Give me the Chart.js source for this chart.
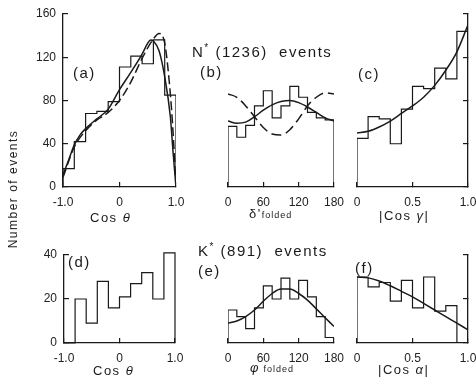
<!DOCTYPE html>
<html>
<head>
<meta charset="utf-8">
<script src="https://cdn.jsdelivr.net/npm/chart.js@4.4.0/dist/chart.umd.min.js"></script>
<style>
  body { margin: 0; background: #fff; }
  #wrap { position: relative; width: 476px; height: 386px; overflow: hidden; }
  #wrap canvas { position: absolute; left: 0; top: 0; }
  .t { position: absolute; font-family: 'Liberation Sans', sans-serif; color: #1a1a1a; white-space: pre; line-height: 1; }
  .big { font-size: 15px; letter-spacing: 1.5px; }
  .ax { font-size: 13px; letter-spacing: 1.5px; }
  .sub { font-size: 9px; letter-spacing: 1px; }
</style>
</head>
<body>
<div id="wrap">
  <canvas id="pa" width="476" height="386"></canvas>
  <canvas id="pb" width="476" height="386"></canvas>
  <canvas id="pc" width="476" height="386"></canvas>
  <canvas id="pd" width="476" height="386"></canvas>
  <canvas id="pe" width="476" height="386"></canvas>
  <canvas id="pf" width="476" height="386"></canvas>

  <div class="t big" style="left:192px;top:43px;">N<sup style="font-size:10px;">*</sup> (1236)  events</div>
  <div class="t big" style="left:198px;top:242px;">K<sup style="font-size:10px;">*</sup> (891)  events</div>

  <div class="t big" style="left:73px;top:65px;">(a)</div>
  <div class="t big" style="left:200px;top:64px;">(b)</div>
  <div class="t big" style="left:358px;top:66px;">(c)</div>
  <div class="t big" style="left:68px;top:254px;">(d)</div>
  <div class="t big" style="left:198px;top:263px;">(e)</div>
  <div class="t big" style="left:355px;top:260px;">(f)</div>

  <div class="t ax" style="left:90px;top:211px;">Cos <i>θ</i></div>
  <div class="t ax" style="left:249px;top:207px;">δ'<span class="sub">folded</span></div>
  <div class="t ax" style="left:379px;top:209px;">|Cos <i>γ</i>|</div>
  <div class="t ax" style="left:93px;top:364px;">Cos <i>θ</i></div>
  <div class="t ax" style="left:250px;top:361px;"><i>φ</i><span class="sub"> folded</span></div>
  <div class="t ax" style="left:378px;top:363px;">|Cos <i>α</i>|</div>

  <div class="t" style="left:-56px;top:182px;width:140px;height:14px;text-align:center;font-size:12px;letter-spacing:1.5px;transform:rotate(-90deg);">Number of events</div>
</div>

<script>
// ---- N* (1236) events, top row ----
const cosEdges = [-1.0, -0.8, -0.6, -0.4, -0.2, 0, 0.2, 0.4, 0.6, 0.8, 1.0];
const nCosTheta = [17, 42, 68, 70, 79, 111, 121, 114, 136, 85];
const fitAsolidX = [-1.0, -0.9, -0.8, -0.7, -0.6, -0.4, -0.2, 0, 0.2, 0.4, 0.5, 0.55, 0.6, 0.7, 0.8, 0.9, 0.95, 1.0];
const fitAsolid = [11, 25, 39, 48, 54, 63, 72, 90, 106, 123, 133, 136, 135, 126, 102, 65, 31, 0];
const fitAdashX = [-1.0, -0.8, -0.6, -0.4, -0.2, 0, 0.2, 0.4, 0.6, 0.7, 0.8, 0.9, 0.95, 1.0];
const fitAdash = [9, 37, 52, 62, 69, 80, 97, 119, 137, 142, 133, 86, 49, 0];

const angEdges = [0, 15, 30, 45, 60, 75, 90, 105, 120, 135, 150, 165, 180];
const nDelta = [56, 46, 57, 75, 89, 64, 75, 93, 83, 69, 64, 62];
const fitBsolid = [61, 59, 60, 65, 71, 76, 79, 80, 78, 74, 69, 64, 61];
const fitBdash = [86, 83, 75, 65, 55, 49, 48, 53, 63, 75, 83, 87, 86];

const absEdges = [0, 0.1, 0.2, 0.3, 0.4, 0.5, 0.6, 0.7, 0.8, 0.9, 1.0];
const nCosGamma = [45, 65, 63, 40, 72, 93, 91, 110, 100, 144];
const fitC = [50, 51.5, 55.5, 61, 68, 75, 83, 94, 108, 125, 150];

// ---- K* (891) events, bottom row ----
const nCosThetaK = [0, 20, 9, 28, 16, 21, 27, 32, 20, 41];
const nPhi = [15, 12, 6.5, 16, 26, 20, 29.5, 20, 28.5, 21, 12, 2.5];
const fitE = [9, 10, 12, 15, 19, 22.5, 24.5, 24.5, 22.5, 19.5, 15.5, 11.5, 7.5];
const nCosAlpha = [30, 25.5, 27.5, 19, 28.5, 16, 30, 14.5, 17, 0];
const fitF = [30, 29.6, 28.2, 26, 23.5, 21, 18, 15, 12, 9, 6];

const ink = '#1a1a1a';
const W = 476, H = 386;
const X_AXIS_H = 22, Y_AXIS_W = 30;

// histogram outline as a stepped line, closed down to zero at both ends
function steps(edges, counts) {
  const pts = [{ x: edges[0], y: 0 }];
  counts.forEach((c, i) => pts.push({ x: edges[i], y: c }));
  pts.push({ x: edges[edges.length - 1], y: counts[counts.length - 1] });
  pts.push({ x: edges[edges.length - 1], y: 0 });
  return pts;
}

function pairs(xs, ys) {
  return xs.map((x, i) => ({ x: x, y: ys[i] }));
}

function histSet(pts) {
  return { data: pts, stepped: true, borderColor: ink, borderWidth: 1.2, pointRadius: 0, fill: false };
}

function curveSet(pts, dash) {
  return {
    data: pts, borderColor: ink, borderWidth: 1.5, pointRadius: 0, fill: false,
    cubicInterpolationMode: 'monotone', borderDash: dash || []
  };
}

const fmt = v => (v === 0 ? '0' : (Math.abs(v) < 10 && v % 1 === 0 ? v.toFixed(1) : String(v)));

function axisGrid() {
  return { display: true, drawOnChartArea: false, drawTicks: true, tickLength: -5, color: ink, lineWidth: 1.2 };
}

function makePanel(id, area, xs, ys, datasets) {
  const yShown = ys.display !== false;
  const yRight = ys.position === 'right';
  const padding = {
    top: area.top,
    bottom: H - area.bottom - X_AXIS_H,
    left: area.left - (yShown && !yRight ? Y_AXIS_W : 0),
    right: W - area.right - (yShown && yRight ? Y_AXIS_W : 0)
  };
  new Chart(document.getElementById(id), {
    type: 'line',
    data: { datasets: datasets },
    options: {
      responsive: false,
      animation: false,
      layout: { padding: padding },
      plugins: { legend: { display: false }, tooltip: { enabled: false } },
      scales: {
        x: {
          type: 'linear', position: 'bottom', min: xs.min, max: xs.max,
          grid: axisGrid(),
          border: { display: true, color: ink, width: 1.3 },
          ticks: {
            stepSize: xs.step, padding: 13, color: '#222',
            font: { family: "'Liberation Sans', sans-serif", size: 12 },
            maxRotation: 0, autoSkip: false, callback: v => (xs.tens ? fmt(v) : String(v))
          },
          afterFit: s => { s.height = X_AXIS_H; s.paddingLeft = 0; s.paddingRight = 0; }
        },
        y: {
          type: 'linear', display: yShown, position: ys.position || 'left', min: ys.min, max: ys.max,
          grid: axisGrid(),
          border: { display: true, color: ink, width: 1.3 },
          ticks: {
            stepSize: ys.step, padding: 12, color: '#222', display: !yRight,
            font: { family: "'Liberation Sans', sans-serif", size: 12 }
          },
          afterFit: s => { s.width = Y_AXIS_W; s.paddingTop = 0; s.paddingBottom = 0; }
        }
      }
    }
  });
}

const topRow = { top: 14, bottom: 187 };
const botRow = { top: 255, bottom: 343 };

makePanel('pa', { left: 63, right: 176, ...topRow },
  { min: -1, max: 1, step: 1, tens: true }, { min: 0, max: 160, step: 40 },
  [histSet(steps(cosEdges, nCosTheta)),
   curveSet(pairs(fitAsolidX, fitAsolid)),
   curveSet(pairs(fitAdashX, fitAdash), [9, 4])]);

makePanel('pb', { left: 198, right: 334, ...topRow },
  { min: 0, max: 180, step: 60 }, { min: 0, max: 160, step: 40, display: false },
  [histSet(steps(angEdges, nDelta)),
   curveSet(pairs(angEdges, fitBsolid)),
   curveSet(pairs(angEdges, fitBdash), [10, 5])]);

makePanel('pc', { left: 357, right: 468, ...topRow },
  { min: 0, max: 1, step: 0.5, tens: true }, { min: 0, max: 160, step: 40, position: 'right' },
  [histSet(steps(absEdges, nCosGamma)),
   curveSet(pairs(absEdges, fitC))]);

makePanel('pd', { left: 64, right: 175, ...botRow },
  { min: -1, max: 1, step: 1, tens: true }, { min: 0, max: 40, step: 20 },
  [Object.assign(histSet(steps(cosEdges, nCosThetaK)), { clip: false })]);

makePanel('pe', { left: 198, right: 334, ...botRow },
  { min: 0, max: 180, step: 60 }, { min: 0, max: 40, step: 20, display: false },
  [histSet(steps(angEdges, nPhi)),
   curveSet(pairs(angEdges, fitE))]);

makePanel('pf', { left: 357, right: 468, ...botRow },
  { min: 0, max: 1, step: 0.5, tens: true }, { min: 0, max: 40, step: 20, position: 'right' },
  [histSet(steps(absEdges, nCosAlpha)),
   curveSet(pairs(absEdges, fitF))]);
</script>
</body>
</html>
